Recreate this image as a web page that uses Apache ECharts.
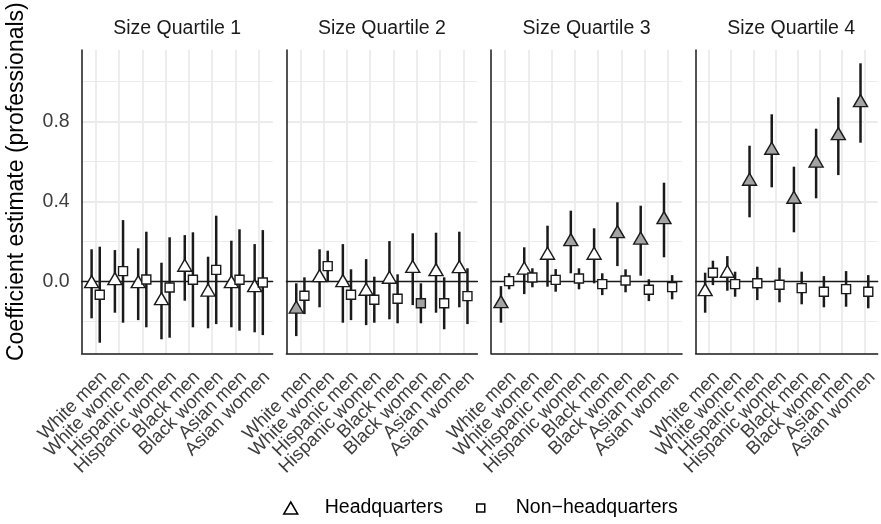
<!DOCTYPE html>
<html>
<head>
<meta charset="utf-8">
<script src="https://cdn.jsdelivr.net/npm/echarts@6/dist/echarts.min.js"></script>
<style>
  html, body { margin: 0; padding: 0; background: #ffffff; }
  #chart { width: 881px; height: 524px; }
</style>
</head>
<body>
<div id="chart"></div>
<script>
// ---- data ----------------------------------------------------------------
const categories = ['White men', 'White women', 'Hispanic men', 'Hispanic women',
                    'Black men', 'Black women', 'Asian men', 'Asian women'];
const panelTitles = ['Size Quartile 1', 'Size Quartile 2', 'Size Quartile 3', 'Size Quartile 4'];
const groupNames = ['Headquarters', 'Non\u2212headquarters'];
const yTitle = 'Coefficient estimate (professionals)';
const yLabelValues = [0, 0.4, 0.8];
const yMajorGrid = [0.4, 0.8];
const yMinorGrid = [-0.2, 0.2, 0.6, 1.0];

// Headquarters: point estimate and 95% interval, one row per size quartile
const hqEst = [
  [-0.010, 0.005, -0.010, -0.095, 0.072, -0.052, -0.010, -0.030],
  [-0.137, 0.020, -0.005, -0.048, 0.012, 0.066, 0.050, 0.065],
  [-0.110, 0.058, 0.132, 0.200, 0.132, 0.240, 0.208, 0.310],
  [-0.050, 0.042, 0.502, 0.657, 0.412, 0.593, 0.730, 0.895]
];
const hqLo = [
  [-0.183, -0.155, -0.192, -0.288, -0.095, -0.233, -0.228, -0.253],
  [-0.272, -0.128, -0.205, -0.217, -0.188, -0.117, -0.155, -0.128],
  [-0.205, -0.062, -0.025, 0.042, -0.008, 0.078, 0.030, 0.122],
  [-0.155, -0.045, 0.322, 0.472, 0.247, 0.417, 0.533, 0.695]
];
const hqHi = [
  [0.162, 0.158, 0.167, 0.095, 0.233, 0.125, 0.205, 0.188],
  [-0.008, 0.162, 0.188, 0.113, 0.203, 0.242, 0.245, 0.250],
  [-0.022, 0.172, 0.280, 0.355, 0.267, 0.397, 0.380, 0.495],
  [0.045, 0.128, 0.680, 0.837, 0.575, 0.765, 0.922, 1.092]
];

// Non-headquarters
const nonEst = [
  [-0.065, 0.053, 0.011, -0.029, 0.010, 0.059, 0.010, -0.004],
  [-0.070, 0.078, -0.065, -0.090, -0.085, -0.108, -0.108, -0.072],
  [0.003, 0.021, 0.009, 0.016, -0.012, 0.006, -0.040, -0.027],
  [0.045, -0.012, -0.008, -0.015, -0.032, -0.050, -0.037, -0.050]
];
const nonLo = [
  [-0.305, -0.205, -0.228, -0.280, -0.228, -0.212, -0.245, -0.267],
  [-0.162, -0.002, -0.192, -0.205, -0.208, -0.208, -0.238, -0.212],
  [-0.038, -0.028, -0.050, -0.038, -0.067, -0.053, -0.097, -0.088],
  [-0.017, -0.075, -0.092, -0.103, -0.113, -0.128, -0.125, -0.133]
];
const nonHi = [
  [0.175, 0.308, 0.250, 0.222, 0.247, 0.330, 0.262, 0.258],
  [0.022, 0.155, 0.062, 0.025, 0.037, -0.008, 0.022, 0.067],
  [0.042, 0.067, 0.063, 0.067, 0.042, 0.062, 0.012, 0.033],
  [0.105, 0.050, 0.075, 0.070, 0.050, 0.028, 0.053, 0.033]
];

// ---- layout & style --------------------------------------------------------
const PANEL_LEFT = 81.7, PANEL_STEP = 204.67, PANEL_W = 191, PANEL_TOP = 50, PANEL_H = 303.3;
const STRIP_TOP = 10;
const X_MIN = -0.6, X_MAX = 7.6, Y_MIN = -0.358, Y_MAX = 1.1585;
const DODGE = 0.175;
const LABEL_SHIFT = 0.35;  // rotated labels hang just right of their category
const FONT = '"Liberation Sans", Arial, Helvetica, sans-serif';
const GRID_COLOR = '#ebebeb';
const INK = '#1a1a1a';
const TICK_TEXT = '#3d3d3d';
const FILL_SIG = '#a3a3a3';
const FILL_NS = '#ffffff';
const catIndex = categories.map((_, i) => i);

// intervals that exclude zero are shaded grey
const fillFor = (lo, hi) => (lo > 0 || hi < 0) ? FILL_SIG : FILL_NS;

// label slots: blank end caps at the axis limits, then one per category
const labelValues = [X_MIN].concat(catIndex.map(i => i + LABEL_SHIFT), [X_MAX]);
const labelText = v => {
  if (v <= X_MIN || v >= X_MAX) return '';
  return categories[Math.round(v - LABEL_SHIFT)];
};

const grids = [], xAxes = [], yAxes = [], series = [], titles = [];

panelTitles.forEach((title, k) => {
  const left = PANEL_LEFT + k * PANEL_STEP;
  grids.push({ left: left, top: PANEL_TOP, width: PANEL_W, height: PANEL_H, containLabel: false });

  titles.push({
    text: title, left: left + PANEL_W / 2, top: 19, textAlign: 'center', padding: 0,
    textStyle: { fontFamily: FONT, fontSize: 19.5, fontWeight: 'normal', color: INK }
  });

  // bottom axis: category labels, vertical grid lines, panel base line
  xAxes.push({
    type: 'value', gridIndex: k, min: X_MIN, max: X_MAX, position: 'bottom', z: 0,
    axisLine: { show: true, onZero: false, lineStyle: { color: INK, width: 1.5 } },
    axisTick: { show: false, customValues: catIndex },
    splitLine: { show: true, lineStyle: { color: GRID_COLOR, width: 1.8 } },
    axisLabel: {
      customValues: labelValues, rotate: 45, margin: 21, hideOverlap: false,
      fontFamily: FONT, fontSize: 18.5, color: TICK_TEXT,
      formatter: labelText
    }
  });
  // reference line at zero
  xAxes.push({
    type: 'value', gridIndex: k, min: X_MIN, max: X_MAX, position: 'top', z: 1,
    axisLine: { show: true, onZero: true, lineStyle: { color: INK, width: 1.3 } },
    axisTick: { show: false }, axisLabel: { show: false }, splitLine: { show: false }
  });

  // main y axis: labels + major grid
  yAxes.push({
    type: 'value', gridIndex: k, min: Y_MIN, max: Y_MAX, z: 0,
    axisLine: { show: true, onZero: false, lineStyle: { color: INK, width: 1.5 } },
    axisTick: { show: false, customValues: yMajorGrid },
    splitLine: { show: true, lineStyle: { color: GRID_COLOR, width: 1.8 } },
    axisLabel: {
      show: k === 0, customValues: yLabelValues, margin: 12,
      fontFamily: FONT, fontSize: 19.5, color: TICK_TEXT,
      formatter: v => v.toFixed(1)
    }
  });
  // minor grid
  yAxes.push({
    type: 'value', gridIndex: k, min: Y_MIN, max: Y_MAX, z: 0,
    axisLine: { show: false, onZero: false },
    axisTick: { show: false, customValues: yMinorGrid },
    axisLabel: { show: false },
    splitLine: { show: true, lineStyle: { color: GRID_COLOR, width: 1.1 } }
  });

  const xi = 2 * k, yi = 2 * k;

  // confidence intervals
  const bars = [];
  catIndex.forEach(i => {
    bars.push([i - DODGE, hqLo[k][i], hqHi[k][i]]);
    bars.push([i + DODGE, nonLo[k][i], nonHi[k][i]]);
  });
  series.push({
    type: 'custom', name: 'interval', xAxisIndex: xi, yAxisIndex: yi, z: 2, silent: true,
    data: bars, encode: { x: 0, y: [1, 2] },
    renderItem: (params, api) => {
      const a = api.coord([api.value(0), api.value(1)]);
      const b = api.coord([api.value(0), api.value(2)]);
      return { type: 'line', shape: { x1: a[0], y1: a[1], x2: b[0], y2: b[1] },
               style: { stroke: INK, lineWidth: 2.5 } };
    }
  });

  // point estimates
  series.push({
    type: 'scatter', name: groupNames[0], xAxisIndex: xi, yAxisIndex: yi, z: 3, silent: true,
    symbol: 'triangle', symbolSize: [14, 12], symbolOffset: [0, '-17%'],
    itemStyle: { color: FILL_NS, borderColor: INK, borderWidth: 1.4, opacity: 1 },
    data: catIndex.map(i => ({
      value: [i - DODGE, hqEst[k][i]],
      itemStyle: { color: fillFor(hqLo[k][i], hqHi[k][i]) }
    }))
  });
  series.push({
    type: 'scatter', name: groupNames[1], xAxisIndex: xi, yAxisIndex: yi, z: 3, silent: true,
    symbol: 'rect', symbolSize: 9,
    itemStyle: { color: FILL_NS, borderColor: INK, borderWidth: 1.4, opacity: 1 },
    data: catIndex.map(i => ({
      value: [i + DODGE, nonEst[k][i]],
      itemStyle: { color: fillFor(nonLo[k][i], nonHi[k][i]) }
    }))
  });
});

// y-axis title, centred on the strip + panel height
const titleGrid = grids.length;
grids.push({ left: PANEL_LEFT, top: STRIP_TOP, width: PANEL_W, height: PANEL_TOP + PANEL_H - STRIP_TOP });
xAxes.push({ type: 'value', gridIndex: titleGrid, show: false });
yAxes.push({
  type: 'value', gridIndex: titleGrid, min: 0, max: 1,
  name: yTitle, nameLocation: 'middle', nameRotate: 90, nameGap: 54,
  nameTextStyle: { fontFamily: FONT, fontSize: 23, color: '#000' },
  axisLine: { show: false, onZero: false }, axisTick: { show: false },
  axisLabel: { show: false }, splitLine: { show: false }
});

const legendText = pad => ({ fontFamily: FONT, fontSize: 19.5, color: '#000', padding: [0, 0, 0, pad] });
const legends = [
  {
    data: [{ name: groupNames[0], icon: 'triangle' }], left: 283, top: 498, padding: 0,
    itemWidth: 14, itemHeight: 12, selectedMode: false,
    itemStyle: { color: '#fff', borderColor: '#000', borderWidth: 1.5 },
    textStyle: legendText(22)
  },
  {
    data: [{ name: groupNames[1], icon: 'rect' }], left: 476, top: 498, padding: 0,
    itemWidth: 8, itemHeight: 8, selectedMode: false,
    itemStyle: { color: '#fff', borderColor: '#000', borderWidth: 1.5 },
    textStyle: legendText(26)
  }
];

const chart = echarts.init(document.getElementById('chart'), null, { renderer: 'canvas' });
chart.setOption({
  backgroundColor: '#ffffff',
  animation: false,
  title: titles,
  legend: legends,
  grid: grids,
  xAxis: xAxes,
  yAxis: yAxes,
  series: series
});
</script>
</body>
</html>
